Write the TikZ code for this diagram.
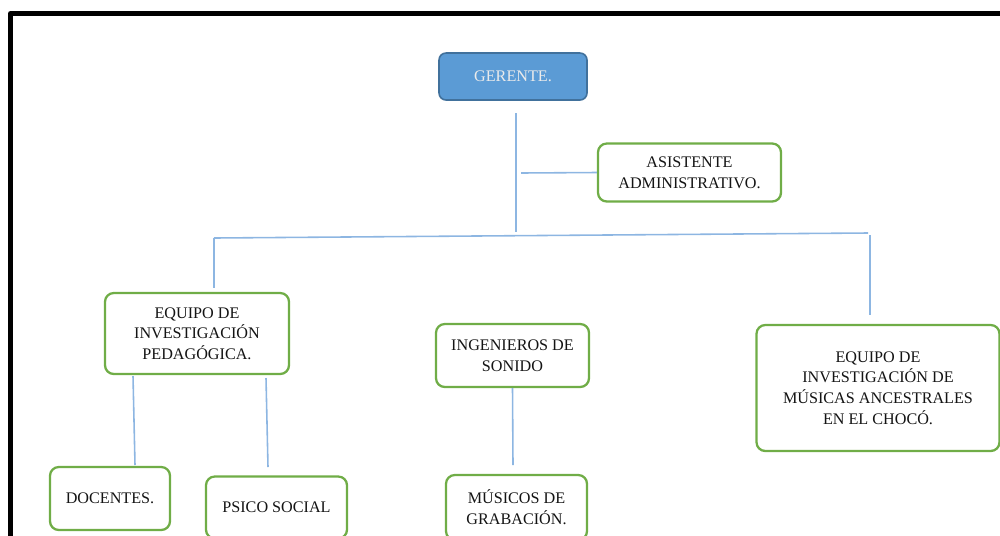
\documentclass[tikz,border=0pt]{standalone}
\usepackage{fontspec}
\setmainfont{Liberation Serif}
\definecolor{boxgreen}{HTML}{70AD47}
\definecolor{linkblue}{HTML}{8DB6E2}
\definecolor{headfill}{HTML}{5B9BD5}
\definecolor{headdraw}{HTML}{41719C}
\definecolor{txt}{HTML}{141414}
\begin{document}
\begin{tikzpicture}[x=0.02cm,y=-0.02cm,
  unit/.style={draw=boxgreen,line width=1.3pt,rounded corners=5pt,fill=white,
    align=center,text=txt,inner sep=0pt,font=\fontsize{9.2}{11.8}\selectfont},
  head/.style={draw=headdraw,line width=0.9pt,rounded corners=4pt,fill=headfill,
    align=center,text=white!92!black,inner sep=0pt,font=\fontsize{9.2}{11.8}\selectfont},
  link/.style={draw=linkblue,line width=0.9pt}]
\useasboundingbox (0,0) rectangle (1000,535);
\clip (0,0) rectangle (1000,535);
% frame
\draw[line width=2.9pt,line join=round] (10.5,545) -- (10.5,13.5) -- (1010,13.5);
% nodes
\node[head,minimum width=148*0.02cm,minimum height=47*0.02cm] (ger) at (513,76.5) {GERENTE.};
\node[unit,minimum width=183*0.02cm,minimum height=58*0.02cm] (asi) at (689.5,172.5) {ASISTENTE\\ADMINISTRATIVO.};
\node[unit,minimum width=184*0.02cm,minimum height=81*0.02cm] (ped) at (197,333.5) {EQUIPO DE\\INVESTIGACIÓN\\PEDAGÓGICA.};
\node[unit,minimum width=153*0.02cm,minimum height=63*0.02cm] (ing) at (512.5,355.5) {INGENIEROS DE\\SONIDO};
\node[unit,minimum width=243*0.02cm,minimum height=126*0.02cm] (anc) at (878,388) {EQUIPO DE\\INVESTIGACIÓN DE\\MÚSICAS ANCESTRALES\\EN EL CHOCÓ.};
\node[unit,minimum width=120*0.02cm,minimum height=63*0.02cm] (doc) at (110,498.5) {DOCENTES.};
\node[unit,minimum width=141*0.02cm,minimum height=62*0.02cm] (psi) at (276.5,507.5) {PSICO SOCIAL};
\node[unit,minimum width=141*0.02cm,minimum height=65*0.02cm] (mus) at (516.5,507.5) {MÚSICOS DE\\GRABACIÓN.};
% connector coordinates
\coordinate (g1) at (516,113);
\coordinate (g2) at (516,232);
\coordinate (a1) at (521,173);
\coordinate (hl) at (214,238);
\coordinate (hr) at (868,233);
\coordinate (l1) at (214,288);
\coordinate (r0) at (870,235);
\coordinate (r1) at (870,315);
\coordinate (d0) at (133,376);
\coordinate (d1) at (135,465);
\coordinate (p0) at (266,378);
\coordinate (p1) at (268,467);
\coordinate (i1) at (513,465);
% connectors
\draw[link] (g1) -- (g2);
\draw[link] (a1) -- (asi.west);
\draw[link] (hl) -- (hr);
\draw[link] (hl) -- (l1);
\draw[link] (r0) -- (r1);
\draw[link] (d0) -- (d1);
\draw[link] (p0) -- (p1);
\draw[link] (ing.south) -- (i1);
\end{tikzpicture}
\end{document}
